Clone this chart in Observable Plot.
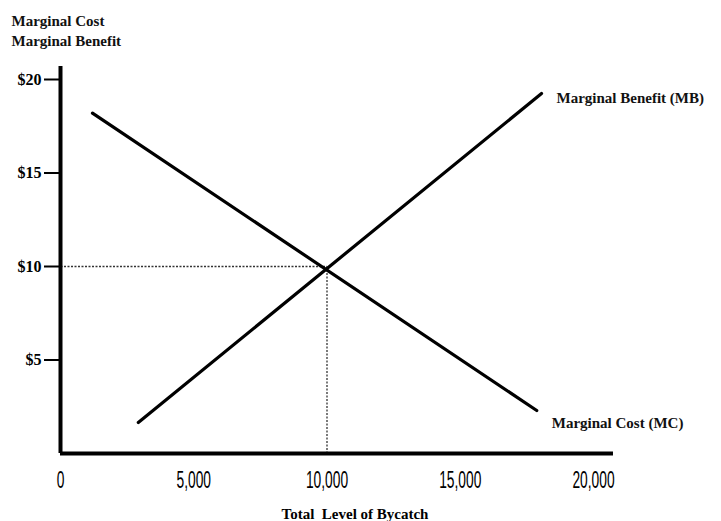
<!DOCTYPE html>
<html>
<head>
<meta charset="utf-8">
<script src="https://cdn.jsdelivr.net/npm/d3@7"></script>
<script src="https://cdn.jsdelivr.net/npm/@observablehq/plot@0.6"></script>
<style>
  html, body { margin: 0; padding: 0; background: #fff; }
  #chart svg { display: block; }
</style>
</head>
<body>
<div id="chart"></div>
<script>
// ---- data ----
const curveNames = ["Marginal Cost (MC)", "Marginal Benefit (MB)"];
const mcBycatch = [1200, 17870];
const mcValue = [18.2, 2.3];
const mbBycatch = [2920, 18050];
const mbValue = [1.66, 19.25];
const equilibriumBycatch = [10000];
const equilibriumValue = [10];
const xTicks = [0, 5000, 10000, 15000, 20000];
const yTicks = [5, 10, 15, 20];
const xAxisEnd = 20750;
const yAxisEnd = 20.7;
const yTitle = "Marginal Cost\nMarginal Benefit";
const xTitle = "Total  Level of Bycatch";

const mc = mcBycatch.map((x, i) => ({x, y: mcValue[i]}));
const mb = mbBycatch.map((x, i) => ({x, y: mbValue[i]}));
const eq = {x: equilibriumBycatch[0], y: equilibriumValue[0]};

const serif = "'Liberation Serif', 'Times New Roman', serif";
const sans = "'Liberation Sans', Arial, sans-serif";

const chart = Plot.plot({
  width: 721,
  height: 521,
  marginLeft: 60,
  marginRight: 128,
  marginTop: 79,
  marginBottom: 68,
  x: {domain: [0, 20000]},
  y: {domain: [0, 20]},
  style: {background: "#fff", color: "#000"},
  marks: [
    // dotted guides
    Plot.link([eq], {x1: 0, y1: "y", x2: "x", y2: "y", stroke: "#333", strokeWidth: 1.3, strokeDasharray: "2,1.5"}),
    Plot.link([eq], {x1: "x", y1: 0, x2: "x", y2: "y", stroke: "#333", strokeWidth: 1.3, strokeDasharray: "2,1.5"}),
    // curves
    Plot.line(mc, {x: "x", y: "y", stroke: "#000", strokeWidth: 3.2, strokeLinecap: "round"}),
    Plot.line(mb, {x: "x", y: "y", stroke: "#000", strokeWidth: 3.2, strokeLinecap: "round"}),
    // curve labels
    Plot.text([mb[mb.length - 1]], {x: "x", y: "y", text: () => curveNames[1], textAnchor: "start", dx: 15, dy: 5,
      fontFamily: serif, fontSize: 15, fontWeight: "bold", fill: "#111"}),
    Plot.text([mc[mc.length - 1]], {x: "x", y: "y", text: () => curveNames[0], textAnchor: "start", dx: 15, dy: 13,
      fontFamily: serif, fontSize: 15, fontWeight: "bold", fill: "#111"}),
    // axes lines
    Plot.ruleX([0], {y1: 0, y2: yAxisEnd, stroke: "#000", strokeWidth: 4}),
    Plot.ruleY([0], {x1: 0, x2: xAxisEnd, stroke: "#000", strokeWidth: 4}),
    Plot.axisY(yTicks, {
      tickSize: 16, tickPadding: 3, strokeWidth: 2,
      tickFormat: d => "$" + d, fontFamily: serif, fontSize: 16, fontWeight: "bold", label: null
    }),
    Plot.axisX(xTicks, {
      tickSize: 0, tickPadding: 18, className: "xticks",
      tickFormat: d => d3.format(",")(d), fontFamily: sans, fontSize: 23, label: null
    }),
    // titles
    Plot.text([yTitle], {frameAnchor: "top-left", text: d => d, textAnchor: "start", lineAnchor: "top",
      dx: -49, dy: -68, lineHeight: 1.35, fontFamily: serif, fontSize: 15, fontWeight: "bold", fill: "#111"}),
    Plot.text([xTitle], {frameAnchor: "bottom", text: d => d, lineAnchor: "middle",
      dx: 28, dy: 61, fontFamily: serif, fontSize: 15, fontWeight: "bold", fill: "#000"})
  ]
});
// condense the x tick labels horizontally (narrow typeface look)
chart.querySelectorAll("g[aria-label='x-axis tick label'] text").forEach(t => {
  const tr = t.getAttribute("transform") || "";
  t.setAttribute("transform", tr + " scale(0.6,1)");
});
document.getElementById("chart").appendChild(chart);
</script>
</body>
</html>
